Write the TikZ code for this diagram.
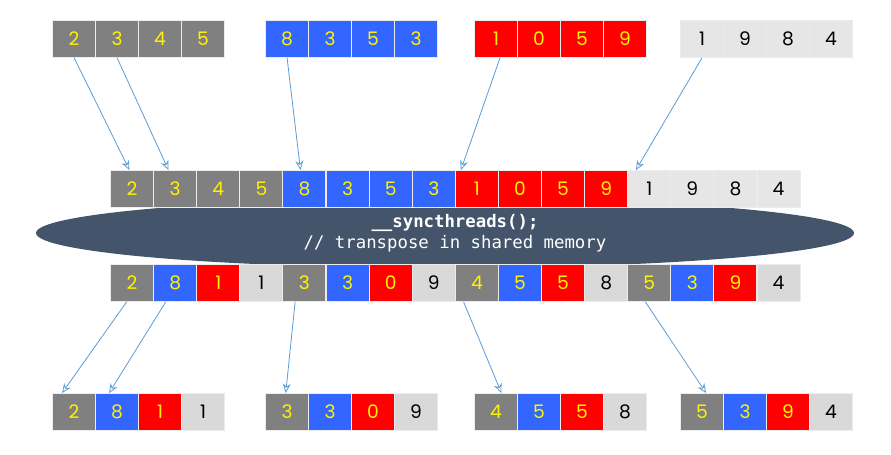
\documentclass[tikz,border=0pt]{standalone}
\usepackage{fontspec}
\setmainfont{Poppins}
\newfontfamily\codefont{DejaVu Sans Mono}
\usetikzlibrary{arrows.meta}
\definecolor{cg}{HTML}{808080}
\definecolor{cb}{HTML}{3366FF}
\definecolor{cr}{HTML}{FF0000}
\definecolor{cl}{HTML}{E6E6E6}
\definecolor{cd}{HTML}{D9D9D9}
\definecolor{ell}{HTML}{44546A}
\definecolor{arr}{HTML}{5B9BD5}
\tikzset{
 cell/.style={draw=white!85!gray,line width=0.8pt,minimum width=32.3pt,minimum height=27.5pt,inner sep=0pt,anchor=north west,font=\fontsize{14}{14}\selectfont},
 G/.style={cell,fill=cg,text=yellow},
 B/.style={cell,fill=cb,text=yellow},
 R/.style={cell,fill=cr,text=yellow},
 L/.style={cell,fill=cl,text=black},
 D/.style={cell,fill=cd,text=black},
 ar/.style={draw=arr,line width=0.6pt,-{Stealth[length=7pt,width=6pt,open]}}
}
\newcommand\rowof[5]{% name, x px, y px, list of style/digit
 \foreach \s/\d [count=\i from 0] in {#4}{
  \node[\s] (#1\i) at ({(#2+#5*\i)*0.75pt},{-#3*0.75pt}) {\d};
 }}
\begin{document}
\begin{tikzpicture}
\useasboundingbox (0,0) rectangle (668.25pt,-340.5pt);
\fill[ell] (445*0.75pt,-233*0.75pt) ellipse (409*0.75pt and 35*0.75pt);
\node[text=white,align=center,font=\codefont\fontsize{13}{16}\selectfont] (txt) at (455*0.75pt,-233*0.75pt) {\textbf{\_\_syncthreads();}\\// transpose in shared memory};
% top groups
\rowof{a}{52}{20}{G/2,G/3,G/4,G/5}{43}
\rowof{b}{265}{20}{B/8,B/3,B/5,B/3}{43}
\rowof{c}{474}{20}{R/1,R/0,R/5,R/9}{43}
\rowof{d}{680}{20}{L/1,L/9,L/8,L/4}{43}
% middle
\rowof{m}{110}{170}{G/2,G/3,G/4,G/5,B/8,B/3,B/5,B/3,R/1,R/0,R/5,R/9,L/1,L/9,L/8,L/4}{43.1}
% lower
\rowof{n}{110}{264}{G/2,B/8,R/1,D/1,G/3,B/3,R/0,D/9,G/4,B/5,R/5,D/8,G/5,B/3,R/9,D/4}{43.1}
% bottom
\rowof{e}{52}{393}{G/2,B/8,R/1,D/1}{43}
\rowof{f}{265}{393}{G/3,B/3,R/0,D/9}{43}
\rowof{g}{474}{393}{G/4,B/5,R/5,D/8}{43}
\rowof{h}{680}{393}{G/5,B/3,R/9,D/4}{43}
% arrows
\draw[ar] (a0.south) -- ([xshift=-2pt]m0.north);
\draw[ar] (a1.south) -- ([xshift=-5pt]m1.north);
\draw[ar] (b0.south) -- ([xshift=-3pt]m4.north);
\draw[ar] ([xshift=3pt]c0.south) -- ([xshift=-12pt]m8.north);
\draw[ar] (d0.south) -- ([xshift=-10pt]m12.north);
\draw[ar] ([xshift=-4pt]n0.south) -- ([xshift=-9pt]e0.north);
\draw[ar] ([xshift=-7pt]n1.south) -- ([xshift=-6pt]e1.north);
\draw[ar] ([xshift=-7pt]n4.south) -- ([xshift=-1pt]f0.north);
\draw[ar] ([xshift=-10pt]n8.south) -- ([xshift=4pt]g0.north);
\draw[ar] ([xshift=-3pt]n12.south) -- ([xshift=3pt]h0.north);
\end{tikzpicture}
\end{document}
